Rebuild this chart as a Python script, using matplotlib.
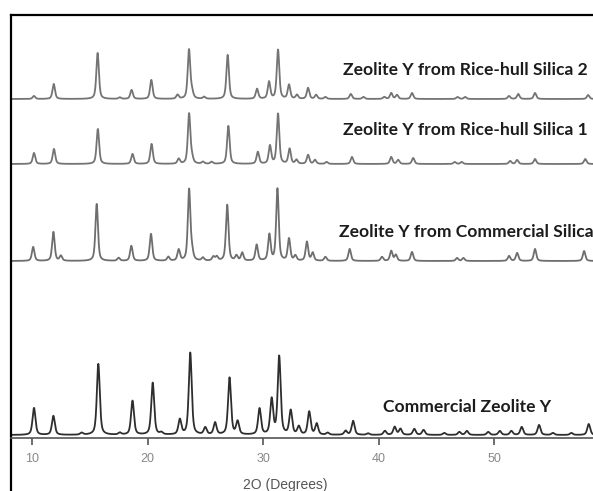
import numpy as np
import matplotlib
matplotlib.use("Agg")
import matplotlib.pyplot as plt

# peak positions (2theta, deg) and heights (arbitrary units)
czy_pos = [10.17, 11.85, 14.3, 15.74, 17.6, 18.7, 20.45, 21.2, 22.8, 23.7, 25.0, 25.85,
           27.1, 27.8, 29.7, 30.75, 31.4, 32.4, 33.1, 34.0, 34.65, 35.6, 37.15, 37.8,
           39.1, 40.55, 41.4, 41.9, 43.1, 43.9, 45.7, 47.0, 47.65, 49.5, 50.5, 51.5,
           52.4, 53.9, 55.1, 56.7, 58.2]
czy_int = [27, 19, 2, 71, 2, 34, 52, 2, 15, 82, 7, 12,
           57, 13, 26, 35, 78, 24, 8, 23, 11, 2, 4, 14,
           1.5, 4, 8, 6, 6, 5, 2, 3, 4, 3, 4, 4,
           8, 10, 2, 2, 11]

cs_pos = [10.1, 11.85, 12.5, 15.6, 17.5, 18.6, 20.3, 21.8, 22.7, 23.6, 23.85, 24.8, 25.7,
          26.0, 26.9, 27.7, 28.2, 29.45, 30.55, 31.25, 32.25, 32.8, 33.8, 34.3, 35.4,
          37.5, 40.3, 41.1, 41.5, 42.9, 46.8, 47.35, 51.3, 52.0, 53.55, 57.8]
cs_int = [14, 29, 5, 57, 3, 15, 27, 4, 11, 71, 8, 3, 4,
          4, 56, 5, 8, 16, 26, 72, 22, 5, 19, 8, 4,
          12, 4, 10, 6, 9, 3, 3, 5, 8, 12, 10]

rh1_pos = [10.17, 11.9, 15.7, 18.7, 20.35, 22.7, 23.6, 23.85, 24.8, 25.55, 27.0, 29.55,
           30.6, 31.3, 32.3, 32.9, 33.9, 34.5, 35.5, 37.7, 41.1, 41.7, 43.0, 46.6,
           47.2, 51.4, 52.0, 53.55, 57.9]
rh1_int = [11, 15, 35, 10, 20, 5, 50, 5, 2, 2, 38, 12,
           18, 50, 15, 4, 9, 4, 2, 7, 7, 4, 6, 2,
           2, 3, 4, 5, 5]

rh2_pos = [10.17, 11.88, 15.68, 17.6, 18.62, 20.33, 22.6, 23.59, 23.85, 24.9, 26.94, 29.48,
           30.52, 31.3, 32.25, 32.94, 33.9, 34.6, 35.4, 37.6, 38.7, 40.5, 41.1, 41.6,
           42.9, 46.85, 47.5, 51.3, 52.1, 53.55, 58.15]
rh2_int = [3, 15, 46, 1.5, 9, 19, 4, 49, 6, 2, 44, 10,
           17, 49, 14, 4, 11, 4, 2, 5, 2, 2, 6, 4,
           6, 2, 2, 3, 5, 6, 4]

labels = ["Zeolite Y from Rice-hull Silica 2", "Zeolite Y from Rice-hull Silica 1",
          "Zeolite Y from Commercial Silica", "Commercial Zeolite Y"]


def pattern(tt, pos, inten, fwhm):
    y = np.zeros_like(tt)
    g = fwhm / 2.0
    for p, h in zip(pos, inten):
        d = tt - p
        lor = 1.0 / (1.0 + (d / g) ** 2)
        gau = np.exp(-np.log(2) * (d / g) ** 2)
        y += h * (0.55 * lor + 0.45 * gau)
    return y


tt = np.arange(8.0, 59.0, 0.01)

W, H = 593, 491
fig = plt.figure(figsize=(W / 100, H / 100), dpi=100)
ax = fig.add_axes([11 / W, 0, (W - 11) / W, (H - 15) / H])
ax.set_xlim(8.18, 58.57)
ax.set_ylim(0, 476)

offsets = [392, 327, 230, 56]
series = [(rh2_pos, rh2_int), (rh1_pos, rh1_int), (cs_pos, cs_int), (czy_pos, czy_int)]
colors = ["#747474", "#747474", "#6e6e6e", "#2e2e2e"]
widths = [0.26, 0.26, 0.26, 0.3]
for (pos, inten), off, c, w in zip(series, offsets, colors, widths):
    ax.plot(tt, off + pattern(tt, pos, inten, w), color=c, lw=1.3)

# sample names
lab_xy = [(343, 70), (343, 130), (339, 232), (383, 407)]
for (px, py), s in zip(lab_xy, labels):
    fig.text(px / W, 1 - py / H, s, fontsize=12.6, family="Lato", weight="bold",
             color="#1c1c1c", ha="left", va="center")

ax.spines["right"].set_visible(False)
for s in ["left", "top"]:
    ax.spines[s].set_linewidth(1.6)
    ax.spines[s].set_color("black")
ax.spines["bottom"].set_position(("data", 53.5))
ax.spines["bottom"].set_color("#555555")
ax.spines["bottom"].set_linewidth(1.2)

ax.set_yticks([])
ax.set_xticks([10, 20, 30, 40, 50])
ax.tick_params(axis="x", direction="out", length=5, width=1.2, color="#555555",
               labelsize=9, labelcolor="#888888", pad=6)
for t in ax.get_xticklabels():
    t.set_family("Liberation Sans")

fig.text(285 / W, 1 - 485 / H, "2O (Degrees)", ha="center", va="center",
         fontsize=10, color="#555555", family="Liberation Sans")

fig.savefig("out.png", dpi=100)
